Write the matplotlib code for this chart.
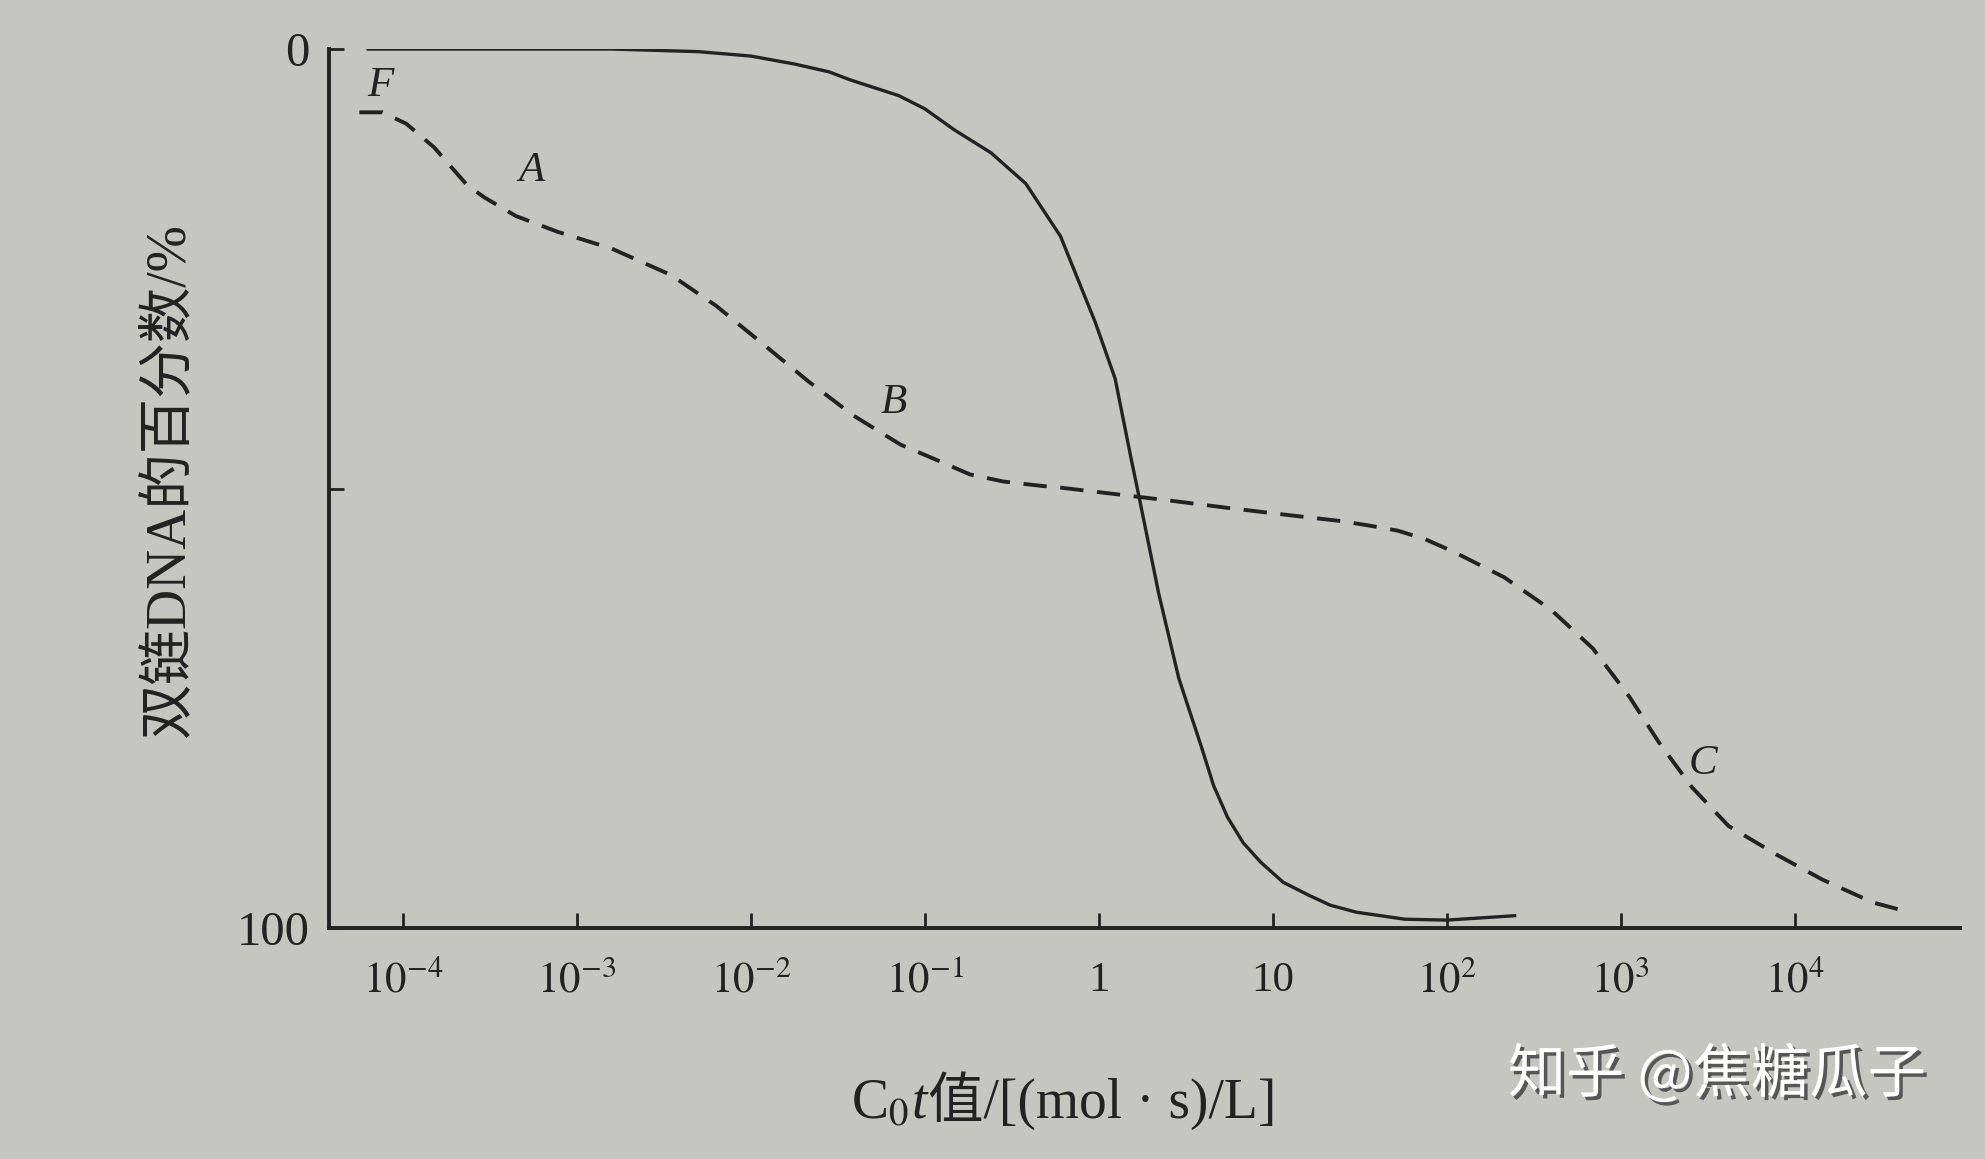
import numpy as np
import matplotlib
matplotlib.use("Agg")
import matplotlib.pyplot as plt
import matplotlib.patheffects as pe
from matplotlib.offsetbox import TextArea, HPacker, AnchoredOffsetbox

plt.rcParams["mathtext.fontset"] = "stix"
plt.rcParams["font.family"] = ["Liberation Serif", "Noto Sans CJK SC"]

# log10(C0t) and % double-stranded DNA
solid_logcot = [-4.2, -2.8, -2.3, -2.0, -1.75, -1.55, -1.43, -1.15, -1.0, -0.83,
                -0.62, -0.42, -0.22, -0.02, 0.094, 0.19, 0.23, 0.345, 0.46,
                0.59, 0.66, 0.74, 0.83, 0.93, 1.06, 1.21, 1.33, 1.48, 1.76,
                2.0, 2.39]
solid_pct = [0, 0, 0.3, 0.8, 1.7, 2.6, 3.5, 5.3, 6.8, 9.2,
             11.8, 15.3, 21.3, 31.1, 37.5, 47.0, 50.8, 62.0, 71.6,
             79.4, 83.8, 87.4, 90.3, 92.5, 94.8, 96.3, 97.4, 98.2, 99.0,
             99.1, 98.6]

dash_logcot = [-4.25, -4.12, -3.98, -3.82, -3.63, -3.53, -3.35, -3.11, -2.80,
               -2.46, -2.20, -1.94, -1.67, -1.41, -1.14, -0.95, -0.74, -0.55,
               -0.33, -0.22, 0.08, 0.42, 0.74, 1.08, 1.39, 1.55, 1.72, 1.88,
               2.04, 2.33, 2.60, 2.84, 3.05, 3.22, 3.41, 3.62, 3.90, 4.16,
               4.45, 4.64]
dash_pct = [7.2, 7.2, 8.5, 11.2, 15.5, 16.9, 19.0, 20.8, 22.7,
            25.7, 29.2, 33.4, 37.8, 41.7, 45.0, 46.6, 48.4, 49.2,
            49.7, 49.9, 50.6, 51.4, 52.2, 53.0, 53.7, 54.2, 54.8, 55.8,
            57.2, 60.1, 63.8, 68.2, 73.7, 78.9, 84.0, 88.4, 91.7, 94.5,
            97.1, 98.1]

curve_labels = ["F", "A", "B", "C"]
label_logcot = [-4.13, -3.26, -1.18, 3.47]
label_pct = [4.2, 13.8, 40.2, 81.3]

xtick_exp = [-4, -3, -2, -1, 0, 1, 2, 3, 4]
xtick_labels = ["$10^{-4}$", "$10^{-3}$", "$10^{-2}$", "$10^{-1}$", "1", "10",
                "$10^{2}$", "$10^{3}$", "$10^{4}$"]
ytick_vals = [0, 50, 100]
ytick_labels = ["0", "", "100"]

ink = "#222222"
paper = "#c6c6c1"

fig = plt.figure(figsize=(19.85, 11.59), dpi=100, facecolor=paper)
ax = fig.add_axes([0.1657, 0.1993, 0.8217, 0.7584], facecolor=paper)

ax.plot(10.0 ** np.array(solid_logcot), solid_pct, color=ink, lw=2.4,
        solid_joinstyle="round")
ax.plot(10.0 ** np.array(dash_logcot), dash_pct, color=ink, lw=2.8,
        dashes=(6, 3.5), dash_joinstyle="round")

for t, lx, ly in zip(curve_labels, label_logcot, label_pct):
    ax.text(10.0 ** lx, ly, t, fontsize=31, style="italic", color=ink,
            ha="center", va="center")

ax.set_xscale("log")
ax.set_xlim(10 ** -4.425, 10 ** 4.95)
ax.set_ylim(100, 0)
ax.minorticks_off()
ax.set_xticks([10.0 ** e for e in xtick_exp], xtick_labels)
ax.set_yticks(ytick_vals, ytick_labels)

for s in ["top", "right"]:
    ax.spines[s].set_visible(False)
for s in ["left", "bottom"]:
    ax.spines[s].set_linewidth(2.8)
    ax.spines[s].set_color(ink)

ax.tick_params(axis="x", direction="in", length=11, width=2, color=ink,
               labelsize=31, pad=24, labelcolor=ink)
ax.tick_params(axis="y", direction="in", length=11, width=2, color=ink,
               labelsize=35, pad=14, labelcolor=ink)

fig.text(0.085, 0.585, "双链DNA的百分数/%", rotation=90, fontsize=40,
         color=ink, ha="center", va="center")

# x label: C0 + italic t + CJK part, packed side by side
parts = [TextArea("C$_0$", textprops=dict(fontsize=40, color=ink)),
         TextArea("t", textprops=dict(fontsize=40, color=ink, style="italic")),
         TextArea("值/[(mol · s)/L]", textprops=dict(fontsize=40, color=ink))]
xlab = HPacker(children=parts, align="baseline", pad=0, sep=1)
fig.add_artist(AnchoredOffsetbox(loc="center", child=xlab, frameon=False,
                                 bbox_to_anchor=(0.536, 0.05),
                                 bbox_transform=fig.transFigure,
                                 borderpad=0, pad=0))

fig.text(0.865, 0.072, "知乎 @焦糖瓜子", fontsize=42, color="white",
         family=["Noto Sans CJK SC", "DejaVu Sans"], weight="medium",
         ha="center", va="center",
         path_effects=[pe.withSimplePatchShadow(offset=(2.5, -2.5),
                                                shadow_rgbFace="#4a4a4a",
                                                alpha=0.9)])

fig.savefig("out.png", dpi=100, facecolor=paper)
